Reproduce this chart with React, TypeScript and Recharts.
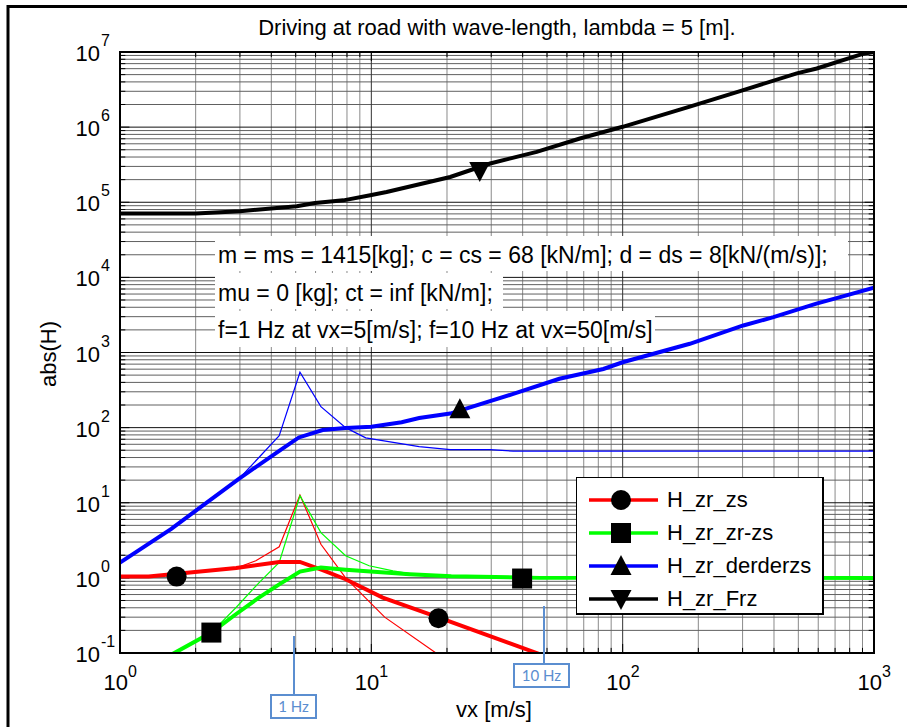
import { ComposedChart, Line, Scatter, XAxis, YAxis, CartesianGrid, ReferenceLine, Legend } from 'recharts';

const FONT = '"Liberation Sans", Arial, sans-serif';

// plot box (MATLAB-like axes placement)
const W = 907;
const H = 727;
const PLOT_LEFT = 120;
const PLOT_TOP = 52;
const PLOT_RIGHT = 874;
const PLOT_BOTTOM = 653;

// axis ticks
const xTicks = [1, 10, 100, 1000];
const yTicks = [0.1, 1, 10, 100, 1000, 1e4, 1e5, 1e6, 1e7];

// H_zr_Frz (black)
const frzVx = [1, 2, 3, 5.05, 5.97, 7.74, 9.9, 11.5, 20.6, 29.7, 45.5, 67.6, 100, 185, 302, 493, 592, 908, 1000];
const frzAbs = [70700, 70700, 75900, 88500, 98000, 106000, 124000, 137000, 217000, 328000, 469000, 706000, 1010000, 1870000, 3110000, 5200000, 6030000, 9500000, 10000000];

// H_zr_derderzs (blue, thick)
const derVx = [1, 1.6, 2.98, 4.3, 5.15, 6.4, 7.9, 10, 13.2, 15.5, 20.6, 36.7, 56, 83.8, 100, 185, 302, 398, 590, 733, 1000];
const derAbs = [1.6, 4.5, 21, 49, 74, 93, 99, 103, 118, 134, 154, 281, 447, 604, 741, 1306, 2290, 2950, 4470, 5460, 7280];

// blue, thin
const derThinVx = [1, 1.6, 2.98, 3.57, 4.3, 5.2, 6.3, 7.9, 9.5, 15.5, 20.6, 29.7, 36.7, 1000];
const derThinAbs = [1.6, 4.5, 21, 40, 78, 546, 190, 100, 73, 56, 51, 51, 48.6, 48.6];

// H_zr_zs (red, thick)
const zsVx = [1, 1.3, 2.9, 4.3, 5.2, 6.4, 7.9, 11.1, 18.6, 47];
const zsAbs = [1.04, 1.04, 1.35, 1.63, 1.63, 1.27, 0.96, 0.547, 0.296, 0.096];

// red, thin
const zsThinVx = [1, 1.3, 2.9, 3.47, 4.3, 5.2, 6.3, 7.9, 11.3, 18.4];
const zsThinAbs = [1.04, 1.04, 1.35, 1.69, 2.59, 12.7, 2.8, 1.0, 0.3, 0.096];

// H_zr_zr-zs (green, thick)
const zrVx = [1.61, 2.31, 2.89, 3.57, 4.3, 5.2, 6.3, 7.9, 9.0, 14.2, 20.8, 47, 1000];
const zrAbs = [0.096, 0.187, 0.328, 0.547, 0.82, 1.21, 1.37, 1.28, 1.24, 1.12, 1.05, 1.0, 1.0];

// green, thin
const zrThinVx = [1.61, 2.31, 2.89, 3.57, 4.3, 5.2, 6.3, 7.9, 9.8, 12.2, 14.2, 20.8, 47, 1000];
const zrThinAbs = [0.096, 0.187, 0.4, 0.86, 1.6, 12.4, 4.0, 1.97, 1.45, 1.24, 1.14, 1.05, 1.0, 1.0];

// markers
const zsMarkVx = [1.68, 18.5];
const zsMarkAbs = [1.04, 0.29];
const zrMarkVx = [2.31, 39.8];
const zrMarkAbs = [0.187, 0.98];
const derMarkVx = [22.5];
const derMarkAbs = [175];
const frzMarkVx = [27];
const frzMarkAbs = [2.6e5];

const pts = (xs: number[], ys: number[]) => xs.map((x, i) => ({ x, y: ys[i] }));

// minor grid values (2..9 per decade)
const minorOf = (decades: number[]) => {
  const out: number[] = [];
  decades.slice(0, -1).forEach((d) => {
    for (let m = 2; m <= 9; m++) out.push(m * d);
  });
  return out;
};
const xMinor = minorOf(xTicks);
const yMinor = minorOf(yTicks);

const Circle = (p: any) => <circle cx={p.cx} cy={p.cy} r={10} fill="#000" />;
const Square = (p: any) => <rect x={p.cx - 10} y={p.cy - 10} width={20} height={20} fill="#000" />;
const TriUp = (p: any) => (
  <polygon points={`${p.cx},${p.cy - 11} ${p.cx - 10.5},${p.cy + 9} ${p.cx + 10.5},${p.cy + 9}`} fill="#000" />
);
const TriDown = (p: any) => (
  <polygon points={`${p.cx},${p.cy + 11} ${p.cx - 10.5},${p.cy - 9} ${p.cx + 10.5},${p.cy - 9}`} fill="#000" />
);

const legendItems = [
  { name: 'H_zr_zs', color: '#ff0000', shape: 'circle' },
  { name: 'H_zr_zr-zs', color: '#00ff00', shape: 'square' },
  { name: 'H_zr_derderzs', color: '#0000ff', shape: 'up' },
  { name: 'H_zr_Frz', color: '#000000', shape: 'down' },
];

const LegendMarker = ({ shape }: { shape: string }) => {
  const p = { cx: 32, cy: 12 };
  if (shape === 'circle') return <Circle {...p} />;
  if (shape === 'square') return <Square {...p} />;
  if (shape === 'up') return <TriUp {...p} />;
  return <TriDown {...p} />;
};

const renderLegend = () => (
  <div
    style={{
      width: 248,
      height: 138,
      boxSizing: 'border-box',
      border: '1.5px solid #000',
      borderRightWidth: 2.5,
      borderBottomWidth: 2.5,
      background: '#fff',
      paddingTop: 5,
      fontFamily: FONT,
    }}
  >
    {legendItems.map((it) => (
      <div key={it.name} style={{ display: 'flex', alignItems: 'center', height: 33, paddingLeft: 12 }}>
        <svg width={70} height={24} style={{ overflow: 'visible' }}>
          <line x1={0} y1={12} x2={69} y2={12} stroke={it.color} strokeWidth={3.5} />
          <LegendMarker shape={it.shape} />
        </svg>
        <span style={{ fontSize: 22, marginLeft: 8, color: '#000', lineHeight: '24px' }}>{it.name}</span>
      </div>
    ))}
  </div>
);

const XTick = ({ x, payload }: any) => {
  const e = Math.round(Math.log10(payload.value));
  return (
    <g fontFamily={FONT} fill="#000">
      <text x={x + 8} y={690} textAnchor="end" fontSize={22}>10</text>
      <text x={x + 8} y={677} textAnchor="start" fontSize={16}>{e}</text>
    </g>
  );
};

const YTick = ({ y, payload }: any) => {
  const e = Math.round(Math.log10(payload.value));
  return (
    <g fontFamily={FONT} fill="#000">
      <text x={100} y={y + 9} textAnchor="end" fontSize={22}>10</text>
      <text x={101} y={y - 6} textAnchor="start" fontSize={16}>{e}</text>
    </g>
  );
};

// inward tick marks on all four sides
const tickMarks = () => {
  const out: any[] = [];
  const xs = [...xTicks.map((v) => ({ v, major: true })), ...xMinor.map((v) => ({ v, major: false }))];
  const ys = [...yTicks.map((v) => ({ v, major: true })), ...yMinor.map((v) => ({ v, major: false }))];
  xs.forEach(({ v, major }, i) => {
    const f = major ? 1.32 : 1.17;
    out.push(<ReferenceLine key={`xb${i}`} segment={[{ x: v, y: 0.1 }, { x: v, y: 0.1 * f }]} stroke="#000" strokeWidth={1} />);
    out.push(<ReferenceLine key={`xt${i}`} segment={[{ x: v, y: 1e7 }, { x: v, y: 1e7 / f }]} stroke="#000" strokeWidth={1} />);
  });
  ys.forEach(({ v, major }, i) => {
    const f = major ? 1.09 : 1.05;
    out.push(<ReferenceLine key={`yl${i}`} segment={[{ x: 1, y: v }, { x: f, y: v }]} stroke="#000" strokeWidth={1} />);
    out.push(<ReferenceLine key={`yr${i}`} segment={[{ x: 1000, y: v }, { x: 1000 / f, y: v }]} stroke="#000" strokeWidth={1} />);
  });
  return out;
};

const CALLOUT = '#5b8ed0';

const notes = [
  { text: 'm = ms = 1415[kg]; c = cs = 68 [kN/m]; d = ds = 8[kN/(m/s)];', top: 236, bottom: 271, right: 848, base: 263 },
  { text: 'mu = 0 [kg]; ct = inf [kN/m];', top: 273, bottom: 309, right: 503, base: 300.5 },
  { text: 'f=1 Hz at vx=5[m/s]; f=10 Hz at vx=50[m/s]', top: 311, bottom: 347, right: 655, base: 338 },
];

export default function App() {
  return (
    <div style={{ position: 'absolute', left: 0, top: 0, width: W, height: H, overflow: 'hidden', background: '#fff' }}>
      <ComposedChart
        width={W}
        height={H}
        margin={{ top: PLOT_TOP, right: W - PLOT_RIGHT, bottom: H - PLOT_BOTTOM - 40, left: PLOT_LEFT - 60 }}
      >
        <CartesianGrid horizontal={false} verticalValues={xMinor} stroke="#8a8a8a" strokeWidth={1} />
        <CartesianGrid vertical={false} horizontalValues={yMinor} stroke="#606060" strokeWidth={1} />
        <CartesianGrid horizontal={false} verticalValues={xTicks} stroke="#333" strokeWidth={1} />
        <CartesianGrid vertical={false} horizontalValues={yTicks} stroke="#111" strokeWidth={1} />
        <XAxis
          dataKey="x"
          type="number"
          scale="log"
          domain={[1, 1000]}
          ticks={xTicks}
          interval={0}
          allowDataOverflow
          axisLine={false}
          tickLine={false}
          height={40}
          tick={<XTick />}
        />
        <YAxis
          dataKey="y"
          type="number"
          scale="log"
          domain={[0.1, 1e7]}
          ticks={yTicks}
          interval={0}
          allowDataOverflow
          axisLine={false}
          tickLine={false}
          width={60}
          tick={<YTick />}
        />
        {tickMarks()}
        <Line data={pts(derThinVx, derThinAbs)} dataKey="y" stroke="#0000ff" strokeWidth={1.2} dot={false} activeDot={false} isAnimationActive={false} legendType="none" />
        <Line data={pts(zsThinVx, zsThinAbs)} dataKey="y" stroke="#ff0000" strokeWidth={1.2} dot={false} activeDot={false} isAnimationActive={false} legendType="none" />
        <Line data={pts(zrThinVx, zrThinAbs)} dataKey="y" stroke="#00ff00" strokeWidth={1.2} dot={false} activeDot={false} isAnimationActive={false} legendType="none" />
        <Line data={pts(zsVx, zsAbs)} dataKey="y" name="H_zr_zs" stroke="#ff0000" strokeWidth={4} dot={false} activeDot={false} isAnimationActive={false} />
        <Line data={pts(zrVx, zrAbs)} dataKey="y" name="H_zr_zr-zs" stroke="#00ff00" strokeWidth={4} dot={false} activeDot={false} isAnimationActive={false} />
        <Line data={pts(derVx, derAbs)} dataKey="y" name="H_zr_derderzs" stroke="#0000ff" strokeWidth={4} dot={false} activeDot={false} isAnimationActive={false} />
        <Line data={pts(frzVx, frzAbs)} dataKey="y" name="H_zr_Frz" stroke="#000000" strokeWidth={4} dot={false} activeDot={false} isAnimationActive={false} />
        <Scatter data={pts(zsMarkVx, zsMarkAbs)} dataKey="y" shape={Circle} isAnimationActive={false} legendType="none" />
        <Scatter data={pts(zrMarkVx, zrMarkAbs)} dataKey="y" shape={Square} isAnimationActive={false} legendType="none" />
        <Scatter data={pts(derMarkVx, derMarkAbs)} dataKey="y" shape={TriUp} isAnimationActive={false} legendType="none" />
        <Scatter data={pts(frzMarkVx, frzMarkAbs)} dataKey="y" shape={TriDown} isAnimationActive={false} legendType="none" />
        <Legend
          layout="horizontal"
          verticalAlign="middle"
          align="center"
          content={renderLegend}
          wrapperStyle={{ left: 576, top: 477, width: 248, height: 138 }}
        />
      </ComposedChart>

      <svg
        width={W}
        height={H}
        style={{ position: 'absolute', left: 0, top: 0, pointerEvents: 'none' }}
        fontFamily={FONT}
      >
        <path d={`M 8 ${H + 5} L 8 6.5 L ${W + 5} 6.5`} stroke="#000" strokeWidth={3} fill="none" />
        <text x={497} y={35} textAnchor="middle" fontSize={22} fill="#000">
          Driving at road with wave-length, lambda = 5 [m].
        </text>
        <text x={494} y={717} textAnchor="middle" fontSize={22} fill="#000">vx [m/s]</text>
        <text transform="translate(56,354) rotate(-90)" textAnchor="middle" fontSize={22} fill="#000">abs(H)</text>

        {notes.map((n) => (
          <g key={n.text}>
            <rect x={215} y={n.top} width={n.right - 215} height={n.bottom - n.top} fill="#fff" />
            <text x={218} y={n.base} fontSize={23} fill="#000">{n.text}</text>
          </g>
        ))}

        <rect x={PLOT_LEFT} y={PLOT_TOP} width={PLOT_RIGHT - PLOT_LEFT} height={PLOT_BOTTOM - PLOT_TOP} fill="none" stroke="#000" strokeWidth={2} />

        <line x1={294} y1={636} x2={294} y2={695} stroke={CALLOUT} strokeWidth={2} />
        <rect x={271} y={695} width={45} height={23} fill="#fff" stroke={CALLOUT} strokeWidth={2} />
        <text x={293.5} y={712} textAnchor="middle" fontSize={15} fill={CALLOUT} fontFamily="Lato, 'Open Sans', sans-serif">1 Hz</text>

        <line x1={544} y1={606} x2={544} y2={664} stroke={CALLOUT} strokeWidth={2} />
        <rect x={514} y={664} width={55} height={23} fill="#fff" stroke={CALLOUT} strokeWidth={2} />
        <text x={541.5} y={681} textAnchor="middle" fontSize={15} fill={CALLOUT} fontFamily="Lato, 'Open Sans', sans-serif">10 Hz</text>
      </svg>
    </div>
  );
}
